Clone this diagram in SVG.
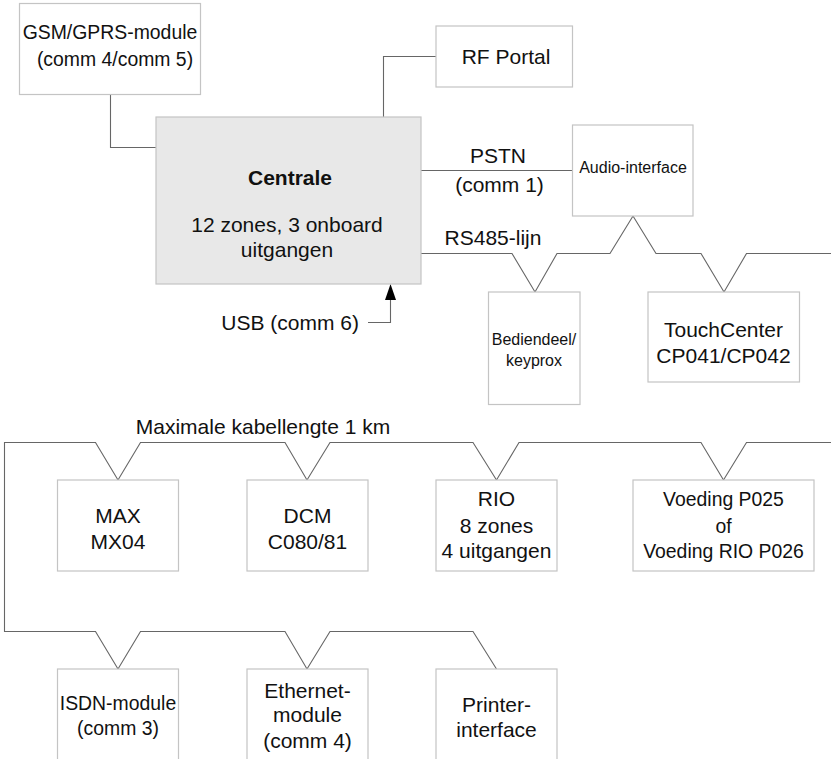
<svg xmlns="http://www.w3.org/2000/svg" width="831" height="759" viewBox="0 0 831 759">
<style>
.box{fill:#fff;stroke:#c4c4c4;stroke-width:1.2}
.main{fill:#e8e8e8;stroke:#c4c4c4;stroke-width:1.2}
.ln{fill:none;stroke:#666;stroke-width:1.1}
text{font-family:"Liberation Sans",Arial,sans-serif;font-size:21px;fill:#111;text-anchor:middle}
.sm{font-size:16px}
.n{font-size:19.4px}
.b{font-weight:bold}
</style>
<rect width="831" height="759" fill="#fff"/>
<g id="connectors">
<path class="ln" d="M110.5 94 V147.5 H156"/>
<path class="ln" d="M383.5 117 V56.5 H436"/>
<path class="ln" d="M421 170.5 H573"/>
<path class="ln" d="M421 253.5 H512 L535 292 L557 253.5 H610 L633 216 L656 253.5 H701 L724 292 L746.5 253.5 H831"/>
<path class="ln" d="M368 322.5 H390.5 V300"/>
<path d="M390.5 284 L396 300 L385 300 Z" fill="#000"/>
<path class="ln" d="M831 442.5 H746.5 L723.5 480 L701 442.5 H519 L496.5 480 L473 442.5 H330 L307 480 L285 442.5 H140.5 L118 480 L95.5 442.5 H4.5 V631.5 H95.5 L118 669 L140.5 631.5 H285 L307 669 L330 631.5 H473 L496.5 669"/>
</g>
<g id="gsm">
<rect class="box" x="19.5" y="3.5" width="181" height="91"/>
<text class="n" x="110" y="39">GSM/GPRS-module</text>
<text class="n" x="115" y="66">(comm 4/comm 5)</text>
</g>
<g id="rfportal">
<rect class="box" x="436" y="26" width="136.5" height="61"/>
<text x="506" y="64">RF Portal</text>
</g>
<g id="centrale">
<rect class="main" x="156" y="117" width="265" height="167"/>
<text class="b" x="290" y="185">Centrale</text>
<text x="287" y="232">12 zones, 3 onboard</text>
<text x="287" y="257">uitgangen</text>
</g>
<g id="pstn-label">
<text x="498" y="163">PSTN</text>
<text x="499.5" y="192">(comm 1)</text>
</g>
<g id="rs485-label">
<text x="493" y="245">RS485-lijn</text>
</g>
<g id="usb-label">
<text x="359" y="330" style="text-anchor:end">USB (comm 6)</text>
</g>
<g id="audio">
<rect class="box" x="572.5" y="125" width="120.5" height="91"/>
<text class="sm" x="633" y="173">Audio-interface</text>
</g>
<g id="bediendeel">
<rect class="box" x="488.5" y="292" width="91.5" height="112.5"/>
<text class="sm" x="534" y="345">Bediendeel/</text>
<text class="sm" x="534" y="366">keyprox</text>
</g>
<g id="touchcenter">
<rect class="box" x="648" y="292" width="151.5" height="90"/>
<text x="723.5" y="337">TouchCenter</text>
<text x="723.5" y="363">CP041/CP042</text>
</g>
<g id="kabel-label">
<text x="263" y="434">Maximale kabellengte 1 km</text>
</g>
<g id="max">
<rect class="box" x="57.5" y="480" width="121" height="91"/>
<text x="118" y="523">MAX</text>
<text x="118" y="549">MX04</text>
</g>
<g id="dcm">
<rect class="box" x="247" y="480" width="121" height="91"/>
<text x="307.5" y="523">DCM</text>
<text x="307.5" y="549">C080/81</text>
</g>
<g id="rio">
<rect class="box" x="436" y="480" width="121" height="91"/>
<text x="496.5" y="506">RIO</text>
<text x="496.5" y="533">8 zones</text>
<text x="496.5" y="558">4 uitgangen</text>
</g>
<g id="voeding">
<rect class="box" x="633" y="480" width="181" height="91"/>
<text class="n" x="723.5" y="506">Voeding P025</text>
<text class="n" x="723.5" y="533">of</text>
<text class="n" x="723.5" y="558">Voeding RIO P026</text>
</g>
<g id="isdn">
<rect class="box" x="57.5" y="669" width="121" height="100"/>
<text class="n" x="118" y="710">ISDN-module</text>
<text class="n" x="118" y="735">(comm 3)</text>
</g>
<g id="ethernet">
<rect class="box" x="247" y="669" width="121" height="100"/>
<text x="307.5" y="698">Ethernet-</text>
<text x="307.5" y="722">module</text>
<text x="307.5" y="748">(comm 4)</text>
</g>
<g id="printer">
<rect class="box" x="436" y="669" width="121" height="100"/>
<text x="496.5" y="712">Printer-</text>
<text x="496.5" y="737">interface</text>
</g>
</svg>
